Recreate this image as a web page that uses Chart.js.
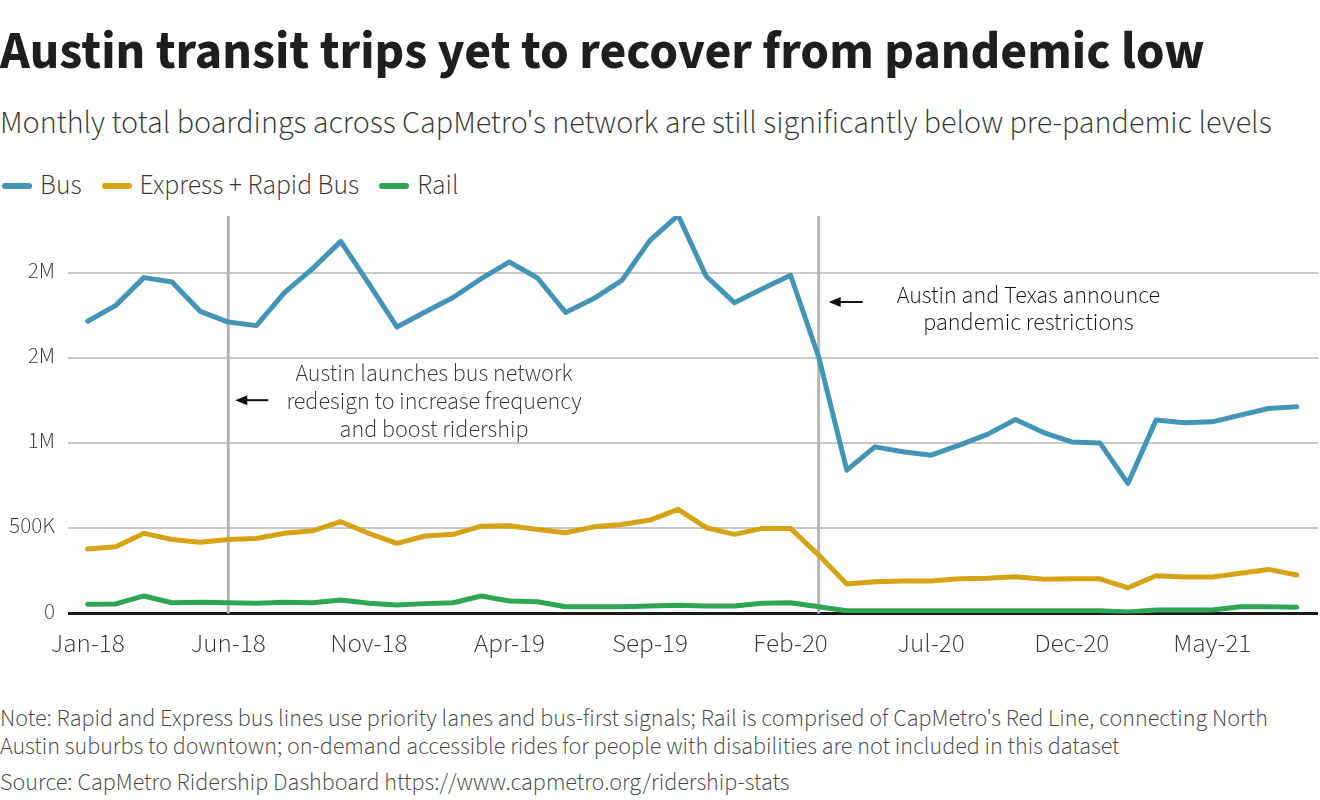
<!DOCTYPE html>
<html lang="en">
<head>
    <meta charset="UTF-8">
    <title>Austin transit trips</title>
    <script src="https://cdn.jsdelivr.net/npm/chart.js"></script>
    <style>
        body { margin: 0; width: 1320px; height: 800px; overflow: hidden; background: #fff; font-family: "Source Sans Pro", "Source Sans 3", Lato, sans-serif; color: #222; position: relative; }
        .txt { position: absolute; left: 0; white-space: nowrap; line-height: 1; }
        #title { top: 26px; font-weight: 700; font-size: 52px; color: #1e1e1e; }
        #subtitle { top: 107px; font-weight: 300; font-size: 28px; color: #333; }
        #legend { position: absolute; top: 166px; left: 2px; display: flex; align-items: center; font-weight: 300; font-size: 27.5px; color: #333; }
        #legend .sw { width: 30px; height: 6px; border-radius: 3px; margin-right: 8px; }
        #legend .item { display: flex; align-items: center; margin-right: 20px; }
        .note { font-weight: 300; font-size: 20px; color: #444; }
        #chartBox { position: absolute; left: 0; top: 200px; width: 1320px; height: 480px; }
    </style>
</head>
<body>
    <div id="title" class="txt">Austin transit trips yet to recover from pandemic low</div>
    <div id="subtitle" class="txt">Monthly total boardings across CapMetro's network are still significantly below pre-pandemic levels</div>
    <div id="legend"></div>
    <div id="chartBox"><canvas id="chart"></canvas></div>
    <div id="note1" class="txt note" style="top:707px">Note: Rapid and Express bus lines use priority lanes and bus-first signals; Rail is comprised of CapMetro's Red Line, connecting North</div>
    <div id="note2" class="txt note" style="top:735px">Austin suburbs to downtown; on-demand accessible rides for people with disabilities are not included in this dataset</div>
    <div id="note3" class="txt note" style="top:771px">Source: CapMetro Ridership Dashboard https://www.capmetro.org/ridership-stats</div>
    <script>
        const months = ["Jan-18","Feb-18","Mar-18","Apr-18","May-18","Jun-18","Jul-18","Aug-18","Sep-18","Oct-18","Nov-18","Dec-18",
                        "Jan-19","Feb-19","Mar-19","Apr-19","May-19","Jun-19","Jul-19","Aug-19","Sep-19","Oct-19","Nov-19","Dec-19",
                        "Jan-20","Feb-20","Mar-20","Apr-20","May-20","Jun-20","Jul-20","Aug-20","Sep-20","Oct-20","Nov-20","Dec-20",
                        "Jan-21","Feb-21","Mar-21","Apr-21","May-21","Jun-21","Jul-21","Aug-21"];
        const xTickIndex = [0, 5, 10, 15, 20, 25, 30, 35, 40];

        const bus = [1717000, 1810000, 1973000, 1947000, 1775000, 1712000, 1691000, 1885000, 2026000, 2186000, 1938000, 1683000,
                     1771000, 1856000, 1967000, 2065000, 1971000, 1768000, 1850000, 1957000, 2192000, 2339000, 1981000, 1826000,
                     1908000, 1987000, 1507000, 842000, 979000, 950000, 930000, 989000, 1052000, 1140000, 1063000, 1008000,
                     1002000, 764000, 1136000, 1120000, 1126000, 1165000, 1204000, 1214000];
        const expressRapid = [379000, 392000, 471000, 435000, 418000, 435000, 441000, 471000, 486000, 539000, 471000, 412000,
                              455000, 465000, 513000, 515000, 494000, 474000, 509000, 523000, 549000, 612000, 504000, 465000,
                              500000, 500000, 343000, 173000, 187000, 191000, 191000, 204000, 207000, 216000, 201000, 204000,
                              204000, 151000, 222000, 214000, 214000, 236000, 259000, 226000];
        const rail = [54000, 56000, 103000, 63000, 66000, 63000, 60000, 66000, 63000, 79000, 60000, 50000,
                      58000, 63000, 103000, 73000, 69000, 40000, 40000, 40000, 44000, 48000, 44000, 44000,
                      60000, 63000, 40000, 16000, 16000, 16000, 16000, 16000, 16000, 16000, 16000, 16000,
                      16000, 9000, 21000, 21000, 21000, 40000, 40000, 36000];

        const yTickValues = [0, 500000, 1000000, 1500000, 2000000];
        const yTickLabels = ["0", "500K", "1M", "2M", "2M"];

        const seriesNames = ["Bus", "Express + Rapid Bus", "Rail"];
        const seriesColors = ["#4394b6", "#d4a316", "#2fa556"];

        // fit a text line to the width it has in the reference
        function fit(id, w) {
            const el = document.getElementById(id);
            const s = parseFloat(getComputedStyle(el).fontSize);
            el.style.fontSize = (s * w / el.getBoundingClientRect().width) + "px";
        }
        fit("title", 1205);
        fit("subtitle", 1272);
        fit("note1", 1268);
        fit("note2", 1120);
        fit("note3", 790);

        const legend = document.getElementById("legend");
        seriesNames.forEach((name, i) => {
            const item = document.createElement("div");
            item.className = "item";
            item.innerHTML = '<div class="sw" style="background:' + seriesColors[i] + '"></div><span>' + name + '</span>';
            legend.appendChild(item);
        });

        const toPoints = arr => arr.map((v, i) => ({ x: i, y: v }));

        function arrow(ctx, x1, x2, y) {
            ctx.strokeStyle = "#111";
            ctx.fillStyle = "#111";
            ctx.lineWidth = 2;
            ctx.beginPath();
            ctx.moveTo(x2, y);
            ctx.lineTo(x1 + 8, y);
            ctx.stroke();
            ctx.beginPath();
            ctx.moveTo(x1, y);
            ctx.lineTo(x1 + 12, y - 5);
            ctx.lineTo(x1 + 12, y + 5);
            ctx.closePath();
            ctx.fill();
        }

        const annotations = {
            id: "annotations",
            beforeDatasetsDraw(chart) {
                const { ctx, chartArea, scales } = chart;
                ctx.save();
                ctx.strokeStyle = "#b4b4b4";
                ctx.lineWidth = 3;
                [5, 26].forEach(i => {
                    const x = scales.x.getPixelForValue(i);
                    ctx.beginPath();
                    ctx.moveTo(x, chartArea.top);
                    ctx.lineTo(x, chartArea.bottom);
                    ctx.stroke();
                });
                ctx.restore();
            },
            afterDatasetsDraw(chart) {
                const { ctx, scales } = chart;
                const x = scales.x, y = scales.y;
                ctx.save();
                ctx.font = "300 24px 'Source Sans Pro', 'Source Sans 3', Lato, sans-serif";
                ctx.fillStyle = "#333";
                ctx.textAlign = "center";
                ctx.textBaseline = "middle";

                const cx1 = x.getPixelForValue(12.32), cy1 = y.getPixelForValue(1235000);
                ["Austin launches bus network", "redesign to increase frequency", "and boost ridership"]
                    .forEach((t, k) => ctx.fillText(t, cx1, cy1 + (k - 1) * 28));
                const v1 = x.getPixelForValue(5);
                arrow(ctx, v1 + 7, v1 + 40, y.getPixelForValue(1253000));

                const cx2 = x.getPixelForValue(33.46), cy2 = y.getPixelForValue(1778000);
                ["Austin and Texas announce", "pandemic restrictions"]
                    .forEach((t, k) => ctx.fillText(t, cx2, cy2 + (k - 0.5) * 27));
                const v2 = x.getPixelForValue(26);
                arrow(ctx, v2 + 10, v2 + 44, y.getPixelForValue(1830000));
                ctx.restore();
            }
        };

        const fam = "'Source Sans Pro', 'Source Sans 3', Lato, sans-serif";

        new Chart(document.getElementById("chart"), {
            type: "line",
            data: {
                datasets: [bus, expressRapid, rail].map((arr, i) => ({
                    label: seriesNames[i],
                    data: toPoints(arr),
                    borderColor: seriesColors[i],
                    borderWidth: 5,
                    pointRadius: 0,
                    tension: 0,
                    borderJoinStyle: "round",
                    borderCapStyle: "round"
                })).reverse()
            },
            options: {
                responsive: true,
                maintainAspectRatio: false,
                animation: false,
                layout: { padding: { top: 16, right: 2, left: 0, bottom: 0 } },
                plugins: { legend: { display: false }, tooltip: { enabled: false } },
                scales: {
                    x: {
                        type: "linear",
                        min: -0.7,
                        max: 43.76,
                        afterBuildTicks: s => { s.ticks = xTickIndex.map(v => ({ value: v })); },
                        afterFit: s => { s.height = 66.5; s.paddingLeft = 0; s.paddingRight = 0; },
                        grid: { display: false },
                        border: { display: false },
                        ticks: { autoSkip: false, maxRotation: 0, padding: 8, color: "#333", font: { family: fam, size: 27, weight: 300 }, callback: v => months[v] }
                    },
                    y: {
                        min: 0,
                        max: 2335000,
                        afterBuildTicks: s => { s.ticks = yTickValues.map(v => ({ value: v })); },
                        afterFit: s => { s.width = 68; s.paddingTop = 0; s.paddingBottom = 0; },
                        grid: {
                            drawTicks: false,
                            lineWidth: c => c.tick && c.tick.value === 0 ? 3 : 2,
                            color: c => c.tick && c.tick.value === 0 ? "#1a1a1a" : "#c8c8c8"
                        },
                        border: { display: false },
                        ticks: { padding: 13, color: "#333", font: { family: fam, size: 23, weight: 300 }, callback: v => yTickLabels[yTickValues.indexOf(v)] }
                    }
                }
            },
            plugins: [annotations]
        });
    </script>
</body>
</html>
